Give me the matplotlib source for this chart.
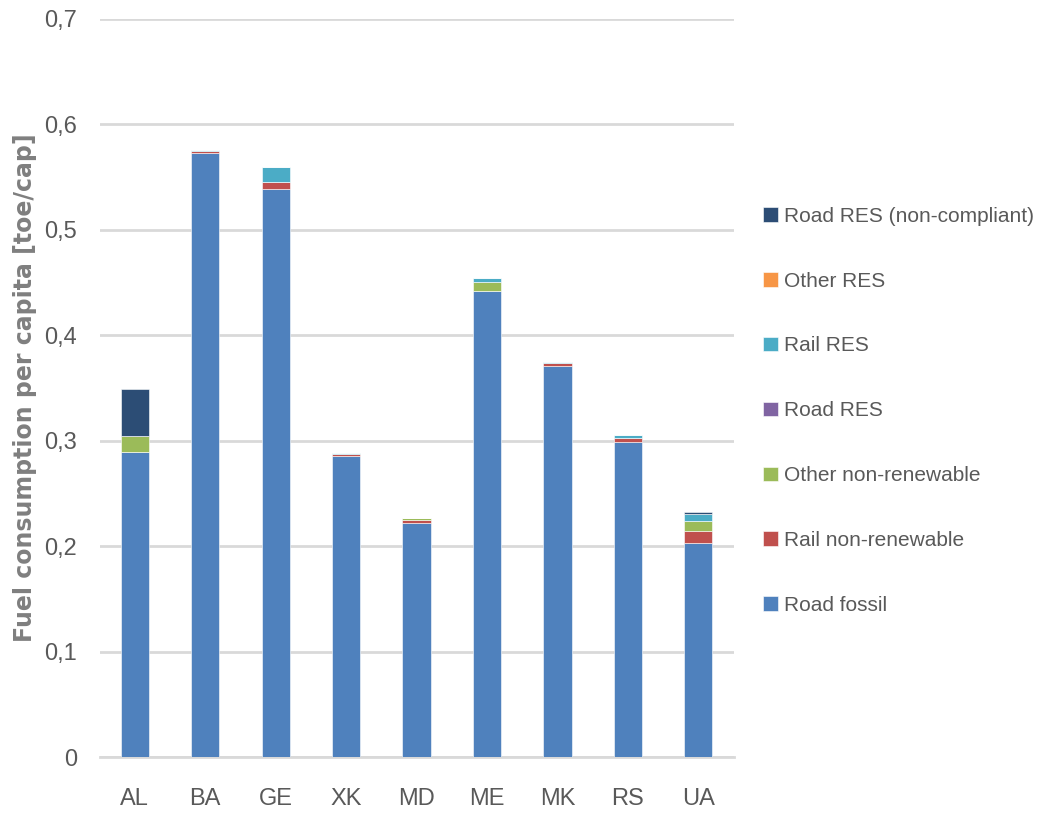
import numpy as np
import matplotlib
matplotlib.use('Agg')
import matplotlib.pyplot as plt

countries = ['AL', 'BA', 'GE', 'XK', 'MD', 'ME', 'MK', 'RS', 'UA']

road_fossil = [0.289, 0.573, 0.539, 0.285, 0.222, 0.442, 0.371, 0.299, 0.203]
rail_nonren = [0.000, 0.002, 0.006, 0.002, 0.003, 0.000, 0.003, 0.003, 0.011]
other_nonren = [0.015, 0.000, 0.000, 0.000, 0.002, 0.008, 0.000, 0.000, 0.010]
road_res = [0.000, 0.000, 0.000, 0.000, 0.000, 0.000, 0.000, 0.000, 0.000]
rail_res = [0.000, 0.001, 0.014, 0.001, 0.000, 0.004, 0.001, 0.003, 0.006]
other_res = [0.000, 0.000, 0.000, 0.000, 0.000, 0.000, 0.000, 0.000, 0.000]
road_res_nc = [0.045, 0.000, 0.000, 0.000, 0.000, 0.000, 0.000, 0.000, 0.002]

series = [
    ('Road fossil', road_fossil, '#4f81bd'),
    ('Rail non-renewable', rail_nonren, '#c0504d'),
    ('Other non-renewable', other_nonren, '#9bbb59'),
    ('Road RES', road_res, '#8064a2'),
    ('Rail RES', rail_res, '#4bacc6'),
    ('Other RES', other_res, '#f79646'),
    ('Road RES (non-compliant)', road_res_nc, '#2c4d75'),
]

font = 'Liberation Sans'
txt = '#595959'

fig = plt.figure(figsize=(10.48, 8.14), dpi=100)
ax = fig.add_axes([0.095, 0.070, 0.605, 0.907])

x = np.arange(len(countries))
bottom = np.zeros(len(countries))
handles = []
for label, vals, col in series:
    v = np.array(vals)
    b = ax.bar(x, v, 0.4, bottom=bottom, color=col, label=label,
               edgecolor='white', linewidth=0.4, zorder=3)
    handles.append(b)
    bottom += v

ax.set_xlim(-0.5, len(countries) - 0.5)
ax.set_ylim(0, 0.7)
ax.set_yticks(np.arange(0, 0.71, 0.1))
ax.set_yticklabels(['0'] + ['0,%d' % i for i in range(1, 8)])
ax.set_xticks(x)
ax.set_xticklabels(countries)
ax.yaxis.grid(True, color='#d9d9d9', linewidth=2, zorder=0)
ax.set_axisbelow(True)
for s in ['top', 'right', 'left']:
    ax.spines[s].set_visible(False)
ax.spines['bottom'].set_color('#d9d9d9')
ax.spines['bottom'].set_linewidth(2)
ax.tick_params(axis='both', length=0, colors=txt, labelsize=17)
for t in ax.get_xticklabels() + ax.get_yticklabels():
    t.set_fontfamily(font)
ax.tick_params(axis='x', pad=22)
ax.tick_params(axis='y', pad=16)

ax.set_ylabel('Fuel consumption per capita [toe/cap]', fontsize=17,
              fontweight='bold', color='#7f7f7f')
ax.yaxis.set_label_coords(-0.098, 0.5)

leg = ax.legend(handles[::-1], [s[0] for s in series][::-1],
                loc='center left', bbox_to_anchor=(1.03, 0.469),
                frameon=False, labelspacing=2.2, handlelength=0.7,
                handleheight=0.7, handletextpad=0.3, borderpad=0,
                prop={'family': font, 'size': 15})
for t in leg.get_texts():
    t.set_color(txt)

fig.savefig('out.png', dpi=100)
